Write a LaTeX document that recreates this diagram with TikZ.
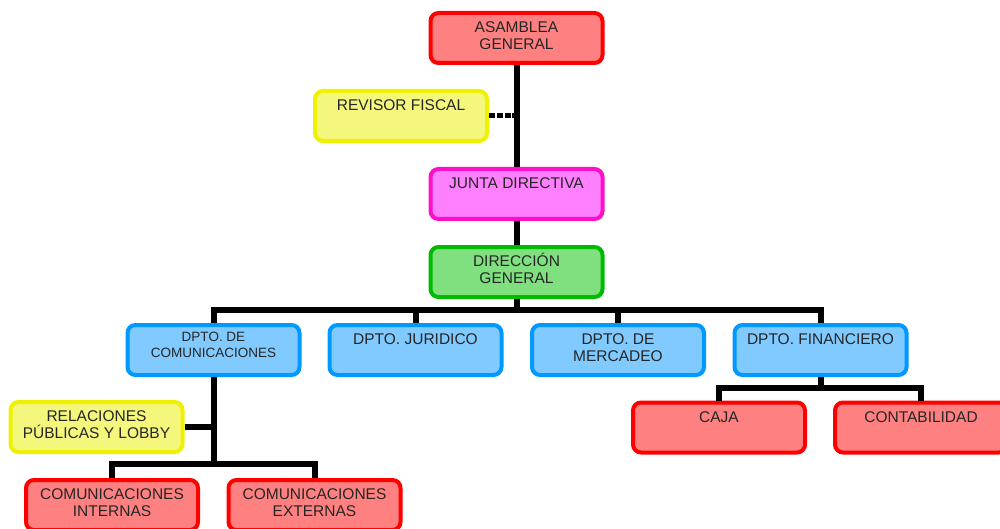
\documentclass[tikz,border=0pt]{standalone}
\usepackage{fontspec}
\setmainfont{Liberation Sans}
\usepackage{tikz}
\usetikzlibrary{calc}
\usepackage{xcolor}
\definecolor{redfill}{HTML}{FF8080}
\definecolor{redline}{HTML}{FF0000}
\definecolor{yelfill}{HTML}{F5F77C}
\definecolor{yelline}{HTML}{EEF200}
\definecolor{magfill}{HTML}{FF80FF}
\definecolor{magline}{HTML}{FF10C8}
\definecolor{grnfill}{HTML}{80E080}
\definecolor{grnline}{HTML}{00BB00}
\definecolor{blufill}{HTML}{80CAFF}
\definecolor{bluline}{HTML}{0099FF}
\tikzset{
  orgbox/.style={rectangle,rounded corners=8pt,line width=4pt,minimum width=172pt,minimum height=50pt,inner sep=0pt},
  redbox/.style={orgbox,fill=redfill,draw=redline},
  yelbox/.style={orgbox,fill=yelfill,draw=yelline},
  magbox/.style={orgbox,fill=magfill,draw=magline},
  grnbox/.style={orgbox,fill=grnfill,draw=grnline},
  blubox/.style={orgbox,fill=blufill,draw=bluline},
  boxtext/.style={anchor=north,inner sep=0pt,align=center,text=black!85,font=\fontsize{15.5}{17}\selectfont},
  conn/.style={line width=6pt,black},
}
\newcommand{\orgstrut}{\rule{0pt}{14pt}}
\newcommand{\orgbox}[6][7.6]{\node[#3] (#2) at (#4,#5) {};
  \node[boxtext] (#2-t) at ($(#2.north)+(0,#1)$) {\orgstrut#6};}

\begin{document}
\begin{tikzpicture}[x=1pt,y=-1pt]
		\clip (0,0) rectangle (1000,529);
		
		\orgbox{asamblea}{redbox}{516.5}{38}{ASAMBLEA\\GENERAL}
		\orgbox{revisor}{yelbox}{401}{116}{REVISOR FISCAL}
		\orgbox{junta}{magbox}{516.5}{194}{JUNTA DIRECTIVA}
		\orgbox{direccion}{grnbox}{516.5}{272}{DIRECCIÓN\\GENERAL}
		
		\orgbox{dptocom}{blubox}{213.5}{350}{}
		\node[boxtext,font=\fontsize{13.5}{16}\selectfont] (dptocom-t) at ($(dptocom.north)+(0,4.4)$) {\orgstrut DPTO. DE\\COMUNICACIONES};
		\orgbox{juridico}{blubox}{415.5}{350}{DPTO. JURIDICO}
		\orgbox{mercadeo}{blubox}{618}{350}{DPTO. DE\\MERCADEO}
		\orgbox{financiero}{blubox}{820.5}{350}{DPTO. FINANCIERO}
		
		\orgbox{relaciones}{yelbox}{96.5}{427}{RELACIONES\\PÚBLICAS Y LOBBY}
		\orgbox{caja}{redbox}{719}{427.5}{CAJA}
		\orgbox{contab}{redbox}{921}{427.5}{CONTABILIDAD}
		
		\orgbox{internas}{redbox}{112}{505}{COMUNICACIONES\\INTERNAS}
		\orgbox{externas}{redbox}{314.5}{505}{COMUNICACIONES\\EXTERNAS}
		
		% upper line
		\draw[conn] (asamblea) -- (junta);
		\draw[conn] (junta) -- (direccion);
		\draw[line width=5pt,dash pattern=on 6pt off 1.8pt] (revisor.east) -- (revisor.east -| asamblea.south);
		
		% departments
		\coordinate (dirbus) at ($(direccion.south)+(0,11)$);
		\draw[conn] (direccion) -- (dirbus);
		\draw[conn] (dptocom) |- (dirbus) -| (financiero);
		\draw[conn] (juridico) -- (juridico |- dirbus);
		\draw[conn] (mercadeo) -- (mercadeo |- dirbus);
		
		% financiero
		\coordinate (finbus) at ($(financiero.south)+(0,11)$);
		\draw[conn] (financiero) -- (finbus);
		\draw[conn] (caja) |- (finbus) -| (contab);
		
		% comunicaciones
		\coordinate (combus) at ($(dptocom.south)+(0,87)$);
		\draw[conn] (dptocom) -- (combus);
		\draw[conn] (relaciones) -- (relaciones -| dptocom);
		\draw[conn] (internas) |- (combus) -| (externas);
		
	\end{tikzpicture}
\end{document}
